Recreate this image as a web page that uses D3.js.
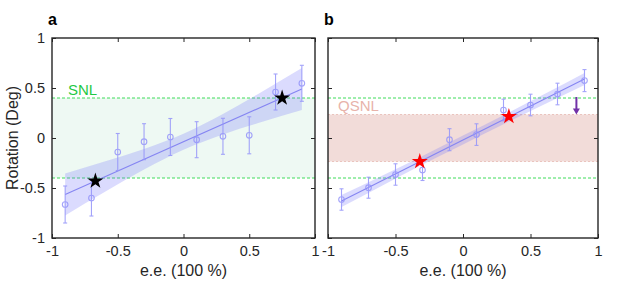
<!DOCTYPE html>
<html><head><meta charset="utf-8">
<script src="https://cdn.jsdelivr.net/npm/d3@7"></script>
<style>
html,body{margin:0;padding:0;background:#fff;}
text{font-family:"Liberation Sans",Arial,Helvetica,sans-serif;}
</style></head>
<body><svg id="c" width="632" height="281"></svg>
<script>
// ---- data ----
const eeTicks = [-1, -0.5, 0, 0.5, 1];
const rotTicks = [-1, -0.5, 0, 0.5, 1];
const eeA = [-0.9, -0.7, -0.5, -0.3, -0.1, 0.1, 0.3, 0.5, 0.7, 0.9];
const rotA = [-0.665, -0.60, -0.14, -0.037, 0.01, -0.017, 0.017, 0.027, 0.46, 0.547];
const errA = [0.185, 0.18, 0.185, 0.18, 0.185, 0.18, 0.18, 0.185, 0.18, 0.18];
const eeB = [-0.9, -0.7, -0.5, -0.3, -0.1, 0.1, 0.3, 0.5, 0.7, 0.9];
const rotB = [-0.615, -0.497, -0.365, -0.32, -0.017, 0.034, 0.28, 0.33, 0.44, 0.574];
const errB = [0.107, 0.105, 0.107, 0.105, 0.11, 0.108, 0.108, 0.108, 0.108, 0.11];
const fitX = [-0.9, 0.9];
const fitA = [-0.564, 0.49];
const fitB = [-0.63, 0.59];
const bandX = [-0.9, -0.6, -0.3, 0, 0.3, 0.6, 0.9];
const bandALo = [-0.774, -0.540, -0.315, -0.117, 0.036, 0.162, 0.279];
const bandAHi = [-0.354, -0.236, -0.110, 0.043, 0.241, 0.466, 0.700];
const bandBLo = [-0.69, -0.477, -0.266, -0.065, 0.138, 0.335, 0.53];
const bandBHi = [-0.57, -0.377, -0.181, 0.025, 0.228, 0.437, 0.65];
const starsA = [[-0.67, -0.43], [0.75, 0.40]];
const starsB = [[-0.32, -0.235], [0.34, 0.215]];
const snl = [-0.4, 0.4];
const qsnl = [-0.235, 0.235];
const arrowB = {ee: 0.84, from: 0.40, to: 0.235};

const svg = d3.select("#c");
const axisColor = "#262626";
const markColor = "#9494fa";

function panel(opt) {
  const x = d3.scaleLinear().domain([-1, 1]).range([opt.x0, opt.x1]);
  const y = d3.scaleLinear().domain([-1, 1]).range([238, 38]);
  const g = svg.append("g");
  const [X0, X1] = x.range();
  // regions
  if (opt.greenFill) {
    g.append("rect").attr("x", X0).attr("width", X1 - X0)
      .attr("y", y(snl[1])).attr("height", y(snl[0]) - y(snl[1]))
      .attr("fill", "#eef9f3");
  }
  if (opt.qsnl) {
    g.append("rect").attr("x", X0).attr("width", X1 - X0)
      .attr("y", y(qsnl[1])).attr("height", y(qsnl[0]) - y(qsnl[1]))
      .attr("fill", "#f2dcd9");
    qsnl.forEach(v => g.append("line").attr("x1", X0).attr("x2", X1)
      .attr("y1", y(v)).attr("y2", y(v)).attr("stroke", "#e6b9b2")
      .attr("stroke-width", 0.8).attr("stroke-dasharray", "2,2"));
  }
  snl.forEach(v => g.append("line").attr("x1", X0).attr("x2", X1)
    .attr("y1", y(v)).attr("y2", y(v)).attr("stroke", "#3fdc5a")
    .attr("stroke-width", 1).attr("stroke-dasharray", "3,2"));
  // band
  const area = d3.area().x((d, i) => x(bandX[i])).y0(d => y(d[0])).y1(d => y(d[1])).curve(d3.curveMonotoneX);
  g.append("path").datum(opt.bandLo.map((v, i) => [v, opt.bandHi[i]]))
    .attr("d", area).attr("fill", "rgba(110,110,250,0.25)");
  // fit line
  g.append("line").attr("x1", x(fitX[0])).attr("x2", x(fitX[1]))
    .attr("y1", y(opt.fit[0])).attr("y2", y(opt.fit[1]))
    .attr("stroke", "#8585f2").attr("stroke-width", 1.1);
  // error bars
  const eb = g.append("g").attr("stroke", markColor).attr("fill", "none").attr("stroke-width", 1.1).attr("opacity", 0.85);
  opt.ee.forEach((e, i) => {
    const cx = x(e), v = opt.rot[i], er = opt.err[i];
    eb.append("line").attr("x1", cx).attr("x2", cx).attr("y1", y(v + er)).attr("y2", y(v - er));
    eb.append("line").attr("x1", cx - 2).attr("x2", cx + 2).attr("y1", y(v + er)).attr("y2", y(v + er));
    eb.append("line").attr("x1", cx - 2).attr("x2", cx + 2).attr("y1", y(v - er)).attr("y2", y(v - er));
    eb.append("circle").attr("cx", cx).attr("cy", y(v)).attr("r", 2.8);
  });
  // stars
  opt.stars.forEach(s => g.append("path")
    .attr("d", d3.symbol(d3.symbolStar, 80)())
    .attr("transform", `translate(${x(s[0])},${y(s[1])})`)
    .attr("fill", opt.starColor));
  // arrow
  if (opt.arrow) {
    const ax = x(arrowB.ee);
    g.append("line").attr("x1", ax).attr("x2", ax).attr("y1", y(arrowB.from) - 1).attr("y2", y(arrowB.to) - 4)
      .attr("stroke", "#7232a8").attr("stroke-width", 2);
    g.append("path").attr("d", `M${ax - 3.5},${y(arrowB.to) - 6} L${ax + 3.5},${y(arrowB.to) - 6} L${ax},${y(arrowB.to)} Z`)
      .attr("fill", "#7232a8");
  }
  // labels of regions
  if (opt.snlLabel) g.append("text").attr("x", X0 + 16).attr("y", y(snl[1]) - 3)
    .attr("fill", "#1fc844").attr("font-size", 15).text("SNL");
  if (opt.qsnl) g.append("text").attr("x", X0 + 10).attr("y", y(qsnl[1]) - 4)
    .attr("fill", "#e8b3aa").attr("font-size", 15).text("QSNL");
  // axes box & ticks
  const ax = g.append("g");
  ax.append("g").attr("transform", "translate(0,238)")
    .call(d3.axisBottom(x).tickValues(eeTicks).tickSize(-4).tickPadding(8).tickFormat(d3.format("")));
  ax.append("g").attr("transform", "translate(0,38)")
    .call(d3.axisTop(x).tickValues(eeTicks).tickSize(-4).tickFormat(""));
  ax.append("g").attr("transform", `translate(${X0},0)`)
    .call(d3.axisLeft(y).tickValues(rotTicks).tickSize(-4).tickPadding(7).tickFormat(opt.yLabels ? d3.format("") : ""));
  ax.append("g").attr("transform", `translate(${X1},0)`)
    .call(d3.axisRight(y).tickValues(rotTicks).tickSize(-4).tickFormat(""));
  ax.selectAll(".domain").remove();
  ax.selectAll(".tick line").attr("stroke", axisColor).attr("stroke-width", 1);
  ax.selectAll(".tick text").attr("fill", axisColor).attr("font-size", 14.5)
    .attr("font-family", "'Liberation Sans',Arial,sans-serif")
    .text(function () { return this.textContent.replace("\u2212", "-"); });
  g.append("rect").attr("x", X0).attr("y", 38).attr("width", X1 - X0).attr("height", 200)
    .attr("fill", "none").attr("stroke", axisColor).attr("stroke-width", 1.4);
  // axis label
  g.append("text").attr("x", (X0 + X1) / 2).attr("y", 276).attr("text-anchor", "middle")
    .attr("fill", axisColor).attr("font-size", 16).text("e.e. (100 %)");
  g.append("text").attr("x", X0 - 4).attr("y", 25).attr("font-weight", "bold")
    .attr("fill", "#000").attr("font-size", 16).text(opt.letter);
}

panel({x0: 52, x1: 315, ee: eeA, rot: rotA, err: errA, fit: fitA, bandLo: bandALo, bandHi: bandAHi,
  stars: starsA, starColor: "#000", greenFill: true, snlLabel: true, yLabels: true, letter: "a"});
panel({x0: 328, x1: 598, ee: eeB, rot: rotB, err: errB, fit: fitB, bandLo: bandBLo, bandHi: bandBHi,
  stars: starsB, starColor: "#ff0000", qsnl: true, arrow: true, yLabels: false, letter: "b"});

svg.append("text").attr("transform", "translate(18,138) rotate(-90)").attr("text-anchor", "middle")
  .attr("fill", axisColor).attr("font-size", 16).text("Rotation (Deg)");
</script></body></html>
